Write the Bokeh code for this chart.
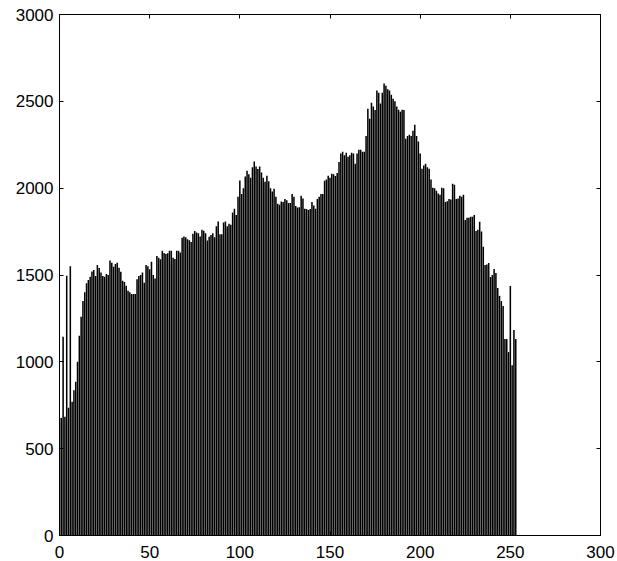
from bokeh.plotting import figure
from bokeh.models import Range1d, FixedTicker, LinearAxis, CustomJSTickFormatter
from bokeh.embed import file_html
from bokeh.resources import INLINE

# Histogram counts for intensity levels 0..255
levels = list(range(256))
counts = [
    680, 676, 1145, 684, 1495, 735, 1550, 770, 836, 885,
    1000, 1150, 1260, 1350, 1400, 1453, 1471, 1490, 1520, 1529,
    1494, 1558, 1540, 1514, 1494, 1490, 1506, 1500, 1583, 1570,
    1548, 1564, 1571, 1542, 1519, 1467, 1460, 1438, 1410, 1400,
    1390, 1390, 1390, 1475, 1494, 1500, 1514, 1456, 1558, 1550,
    1533, 1577, 1500, 1480, 1610, 1600, 1590, 1640, 1627, 1621,
    1625, 1640, 1640, 1600, 1592, 1640, 1640, 1630, 1715, 1721,
    1718, 1706, 1700, 1690, 1737, 1754, 1745, 1741, 1721, 1760,
    1755, 1740, 1698, 1720, 1730, 1741, 1718, 1780, 1808, 1735,
    1735, 1802, 1808, 1780, 1795, 1790, 1860, 1881, 1846, 1950,
    2044, 1967, 2000, 2067, 2100, 2080, 2060, 2120, 2154, 2125,
    2110, 2125, 2090, 2060, 2037, 2071, 2040, 2000, 1981, 1996,
    1950, 1910, 1904, 1923, 1921, 1938, 1930, 1915, 1915, 1967,
    1950, 1898, 1888, 1890, 1956, 1940, 1881, 1880, 1875, 1880,
    1921, 1900, 1881, 1938, 1950, 1967, 1967, 2042, 2050, 2071,
    2060, 2083, 2080, 2070, 2088, 2150, 2200, 2210, 2190, 2204,
    2181, 2190, 2204, 2200, 2140, 2200, 2221, 2221, 2210, 2210,
    2300, 2458, 2400, 2492, 2470, 2450, 2562, 2550, 2487, 2550,
    2602, 2590, 2570, 2562, 2538, 2515, 2500, 2470, 2452, 2440,
    2452, 2450, 2285, 2300, 2308, 2300, 2330, 2365, 2300, 2269,
    2200, 2112, 2130, 2140, 2120, 2112, 2050, 2002, 2000, 1985,
    1970, 1962, 2002, 2000, 1921, 1925, 1938, 1935, 2025, 2020,
    1938, 1940, 1956, 1950, 1962, 1817, 1830, 1830, 1835, 1835,
    1846, 1754, 1760, 1806, 1750, 1662, 1558, 1560, 1569, 1488,
    1500, 1535, 1511, 1425, 1380, 1350, 1321, 1131, 1131, 1056,
    1437, 981, 1183, 1131, 0, 0,
]
x_ticks = [0, 50, 100, 150, 200, 250, 300]
y_ticks = [0, 500, 1000, 1500, 2000, 2500, 3000]

FONT = "Liberation Sans"
FS = "17px"

p = figure(width=617, height=561, output_backend="svg", toolbar_location=None,
           x_range=Range1d(0, 300), y_range=Range1d(0, 3000),
           min_border_left=59, min_border_right=17, min_border_top=14,
           min_border_bottom=26)
p.background_fill_color = "white"
p.border_fill_color = "white"
p.grid.visible = False
p.outline_line_color = "black"
p.outline_line_width = 1

p.vbar(x=levels, top=counts, width=0.85, bottom=0,
       fill_color="black", line_color=None)

for ax, ticks in ((p.xaxis[0], x_ticks), (p.yaxis[0], y_ticks)):
    ax.ticker = FixedTicker(ticks=ticks)
    ax.minor_tick_line_color = None
    ax.major_tick_in = 4
    ax.major_tick_out = 0
    ax.axis_line_color = "black"
    ax.major_tick_line_color = "black"
    ax.major_label_text_font = FONT
    ax.major_label_text_font_size = FS
    ax.major_label_text_color = "black"
p.yaxis[0].major_label_standoff = 6
p.xaxis[0].major_label_standoff = 10

blank = CustomJSTickFormatter(code="return ''")
for loc, ticks in (("right", y_ticks), ("above", x_ticks)):
    ax = LinearAxis(ticker=FixedTicker(ticks=ticks), formatter=blank)
    ax.minor_tick_line_color = None
    ax.major_tick_in = 4
    ax.major_tick_out = 0
    ax.major_label_standoff = 0
    ax.major_label_text_font_size = "1px"
    p.add_layout(ax, loc)

open("out.html", "w").write(file_html(p, INLINE))
